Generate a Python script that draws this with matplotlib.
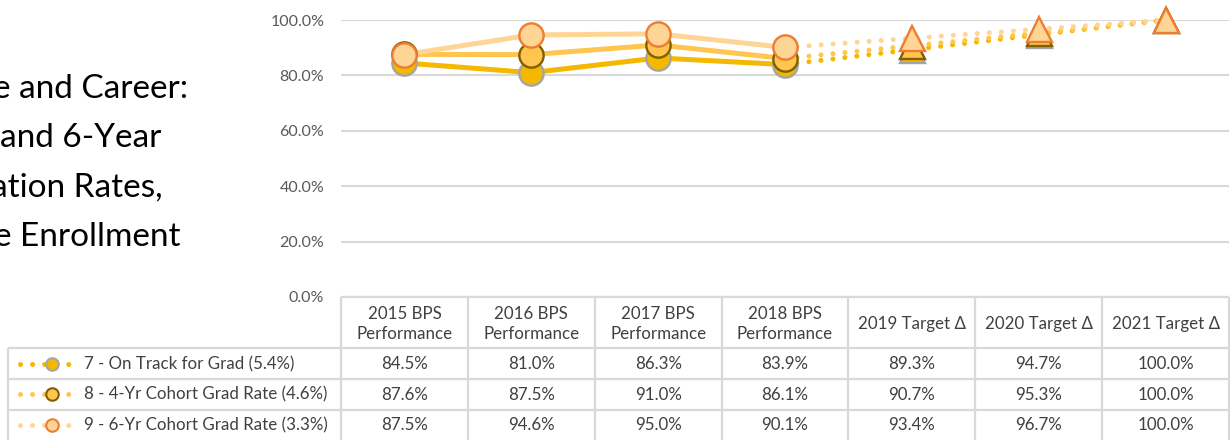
import matplotlib.pyplot as plt
import matplotlib.transforms as mtransforms
import numpy as np

plt.rcParams['font.family'] = ['Lato', 'DejaVu Sans']

# chart data (values in %)
categories = ['2015 BPS\nPerformance', '2016 BPS\nPerformance', '2017 BPS\nPerformance',
              '2018 BPS\nPerformance', '2019 Target Δ', '2020 Target Δ', '2021 Target Δ']
series_names = ['7 - On Track for Grad (5.4%)',
                '8 - 4-Yr Cohort Grad Rate (4.6%)',
                '9 - 6-Yr Cohort Grad Rate (3.3%)']
on_track = [84.5, 81.0, 86.3, 83.9, 89.3, 94.7, 100.0]
grad_4yr = [87.6, 87.5, 91.0, 86.1, 90.7, 95.3, 100.0]
grad_6yr = [87.5, 94.6, 95.0, 90.1, 93.4, 96.7, 100.0]
n_actual = 4  # first four columns are performance, the rest are targets
title_lines = ['e and Career:', 'and 6-Year', 'ation Rates,', 'e Enrollment']
yticks = [0, 20, 40, 60, 80, 100]

series = [on_track, grad_4yr, grad_6yr]
line_colors = ['#F4B800', '#FFC54F', '#FFD596']
edge_colors = ['#A5A5A5', '#7F6000', '#ED7D31']
grid_col = '#D9D9D9'
text_col = '#404040'
W, H = 1230, 440
fs_table = 12.2

fig = plt.figure(figsize=(W/100, H/100), dpi=100)
ov = fig.add_axes([0, 0, 1, 1])
ov.set_xlim(0, W)
ov.set_ylim(H, 0)
ov.axis('off')

ax = fig.add_axes([341/W, (H-297)/H, 888/W, 277/H])
ax.set_xlim(-0.5, len(categories)-0.5)
ax.set_ylim(0, 100)
ax.set_yticks(yticks)
ax.set_yticklabels(['{:.1f}%'.format(v) for v in yticks])
ax.set_xticks([])
ax.tick_params(axis='y', length=0, pad=12, labelcolor='#595959', labelsize=11.5)
ax.yaxis.grid(True, color=grid_col, lw=1.5)
ax.set_axisbelow(True)
for s in ax.spines.values():
    s.set_visible(False)
ax.patch.set_alpha(0)

x = np.arange(len(categories))
dots = (0, (0.01, 2.4))
for i, vals in enumerate(series):
    vals = np.asarray(vals)
    c, e = line_colors[i], edge_colors[i]
    ax.plot(x[:n_actual], vals[:n_actual], color=c, lw=3.6,
            solid_capstyle='round', zorder=2, clip_on=False)
    ax.plot(x[n_actual-1:], vals[n_actual-1:], color=c, lw=3.6, ls=dots,
            dash_capstyle='round', zorder=2, clip_on=False)
    ax.plot(x[:n_actual], vals[:n_actual], 'o', ms=17.5, mfc=c, mec=e, mew=1.7,
            zorder=5+i, clip_on=False)
    ax.plot(x[n_actual:], vals[n_actual:], '^', ms=18, mfc=c, mec=e, mew=1.7,
            zorder=5+i, clip_on=False)

# title, cut at the left edge as in the source
for k, line in enumerate(title_lines):
    right = [188, 161, 163, 181][k]
    ov.text(right, 98 + 49.2*k, line, ha='right', va='baseline', fontsize=24,
            color='#000000', clip_on=True)

# data table
bt = mtransforms.blended_transform_factory(ax.transData, ov.transData)
right_px = 1229
row_y = [348, 379, 410]
lkw = dict(color=grid_col, lw=1.6, solid_capstyle='butt')
for k in range(len(categories)+1):
    ov.plot([k-0.5, k-0.5], [297, H], transform=bt, **lkw)
ov.plot([-0.5, len(categories)-0.5], [297, 297], transform=bt, **lkw)
for yy in row_y:
    ov.plot([8, right_px], [yy, yy], **lkw)
ov.plot([8, 8], [348, H], **lkw)

for k, cat in enumerate(categories):
    ov.text(k, 324, cat, transform=bt, ha='center', va='center',
            fontsize=fs_table, color=text_col, linespacing=1.3)

row_mid = [364, 394.5, 425]
for i, vals in enumerate(series):
    y = row_mid[i]
    for k, v in enumerate(vals):
        ov.text(k, y, '{:.1f}%'.format(v), transform=bt, ha='center', va='center',
                fontsize=fs_table, color=text_col)
    ov.plot([20, 80], [y, y], color=line_colors[i], lw=3.6, ls=dots,
            dash_capstyle='round')
    ov.plot([52], [y], 'o', ms=9, mfc=line_colors[i], mec=edge_colors[i], mew=1.5)
    ov.text(84, y, series_names[i], ha='left', va='center', fontsize=fs_table,
            color=text_col)

fig.savefig('out.png', dpi=100)
